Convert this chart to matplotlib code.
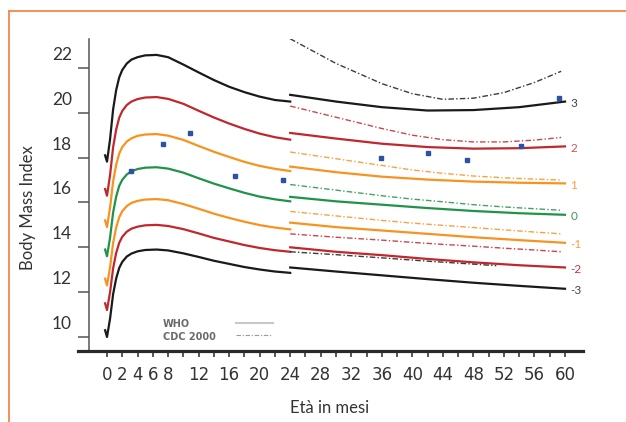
import matplotlib
matplotlib.use("Agg")
import matplotlib.pyplot as plt
from matplotlib.lines import Line2D
from matplotlib.transforms import ScaledTranslation

#--------------------------------------
# data
#--------------------------------------

# WHO, birth to 24 months (first point is the little hook at birth)
who_months_a = [-0.25, 0, 0.4, 0.8, 1.2, 1.6, 2, 2.6, 3.2, 4, 5, 6.5,
                8, 10, 12, 14, 16, 18, 20, 22, 24]
who_a_p3 = [18.1, 17.82, 18.82, 20.15, 21.01, 21.58, 21.91, 22.2, 22.37, 22.48, 22.56, 22.58,
            22.48, 22.15, 21.8, 21.46, 21.16, 20.92, 20.72, 20.57, 20.5]
who_a_p2 = [16.6, 16.3, 17.22, 18.46, 19.25, 19.78, 20.08, 20.35, 20.5, 20.61, 20.68, 20.7,
            20.62, 20.4, 20.09, 19.79, 19.52, 19.28, 19.07, 18.91, 18.8]
who_a_p1 = [15.2, 14.9, 15.77, 16.93, 17.68, 18.18, 18.47, 18.72, 18.86, 18.97, 19.03, 19.05,
            18.98, 18.79, 18.52, 18.26, 18.03, 17.81, 17.63, 17.5, 17.4]
who_a_0 = [13.9, 13.6, 14.43, 15.55, 16.26, 16.74, 17.01, 17.25, 17.39, 17.49, 17.55, 17.57,
           17.51, 17.33, 17.08, 16.84, 16.63, 16.43, 16.26, 16.14, 16.05]
who_a_m1 = [12.6, 12.3, 13.11, 14.19, 14.88, 15.34, 15.61, 15.84, 15.98, 16.07, 16.13, 16.15,
            16.1, 15.93, 15.72, 15.5, 15.31, 15.14, 14.99, 14.88, 14.8]
who_a_m2 = [11.5, 11.2, 12.0, 13.06, 13.75, 14.2, 14.47, 14.7, 14.83, 14.92, 14.98, 15.0,
            14.95, 14.81, 14.62, 14.42, 14.26, 14.1, 13.97, 13.87, 13.8]
who_a_m3 = [10.3, 10.0, 10.82, 11.91, 12.61, 13.08, 13.35, 13.59, 13.72, 13.82, 13.88, 13.9,
            13.86, 13.73, 13.57, 13.4, 13.26, 13.12, 13.01, 12.92, 12.86]

# WHO, 24 to 60 months
who_months_b = [24, 30, 36, 42, 48, 54, 60]
who_b_p3 = [20.8, 20.5, 20.25, 20.1, 20.12, 20.25, 20.5]
who_b_p2 = [19.1, 18.85, 18.62, 18.47, 18.4, 18.42, 18.5]
who_b_p1 = [17.6, 17.35, 17.15, 17.02, 16.93, 16.88, 16.85]
who_b_0 = [16.25, 16.05, 15.9, 15.75, 15.62, 15.52, 15.45]
who_b_m1 = [15.1, 14.9, 14.75, 14.6, 14.45, 14.32, 14.2]
who_b_m2 = [14.0, 13.8, 13.65, 13.48, 13.33, 13.2, 13.1]
who_b_m3 = [13.1, 12.92, 12.75, 12.58, 12.42, 12.28, 12.15]

# CDC 2000, 24 to 60 months
cdc_months = [24, 30, 36, 40, 44, 48, 52, 56, 59.5]
cdc_top = [23.3, 22.2, 21.3, 20.85, 20.6, 20.65, 20.9, 21.35, 21.85]
cdc_red_up = [20.3, 19.8, 19.3, 19.0, 18.8, 18.7, 18.7, 18.78, 18.9]
cdc_orange_up = [18.25, 17.95, 17.65, 17.45, 17.3, 17.18, 17.1, 17.04, 17.0]
cdc_green = [16.8, 16.55, 16.3, 16.15, 16.03, 15.9, 15.8, 15.72, 15.65]
cdc_orange_low = [15.6, 15.4, 15.2, 15.08, 14.98, 14.88, 14.78, 14.68, 14.6]
cdc_red_low = [14.6, 14.45, 14.32, 14.22, 14.13, 14.05, 13.96, 13.88, 13.8]
cdc_low_months = [24, 30, 36, 42, 48, 51]
cdc_black_low = [13.8, 13.67, 13.53, 13.38, 13.25, 13.18]

# child measurements
child_months = [3.2, 7.4, 10.9, 16.8, 23.1, 35.9, 42.1, 47.1, 54.2, 59.2]
child_bmi = [17.4, 18.6, 19.1, 17.2, 17.0, 17.98, 18.2, 17.9, 18.5, 20.66]

z_labels = ["3", "2", "1", "0", "-1", "-2", "-3"]
x_ticks = list(range(0, 61, 2))
x_labelled = [0, 2, 4, 6, 8, 12, 16, 20, 24, 28, 32, 36, 40, 44, 48, 52, 56, 60]
y_ticks = [10, 12, 14, 16, 18, 20, 22]

#--------------------------------------
# styles
#--------------------------------------
BLACK = "#1a1a1a"
RED = "#c1272d"
ORANGE = "#f7931e"
GREEN = "#1f9448"
label_cols = ["#444444", "#d4525a", "#f7a03a", "#3a9a52", "#f7a03a", "#c8343c", "#444444"]
DASH = (0, (4, 1.6, 1, 1.6))

fig = plt.figure(figsize=(6.26, 4.22), dpi=100)
ax = fig.add_axes([78/626, 71/422, 505/626, 312/422])

who_a = [who_a_p3, who_a_p2, who_a_p1, who_a_0, who_a_m1, who_a_m2, who_a_m3]
who_b = [who_b_p3, who_b_p2, who_b_p1, who_b_0, who_b_m1, who_b_m2, who_b_m3]
cols = [BLACK, RED, ORANGE, GREEN, ORANGE, RED, BLACK]

for vals, c in zip(who_a, cols):
    ax.plot(who_months_a, vals, color=c, lw=1.6, solid_joinstyle="round", zorder=3)
for vals, c in zip(who_b, cols):
    ax.plot(who_months_b, vals, color=c, lw=1.6, zorder=3)

cdc = [cdc_top, cdc_red_up, cdc_orange_up, cdc_green, cdc_orange_low, cdc_red_low]
cdc_cols = [BLACK, RED, ORANGE, GREEN, ORANGE, RED]
for vals, c in zip(cdc, cdc_cols):
    ax.plot(cdc_months, vals, color=c, lw=1.0, ls=DASH, alpha=0.85, zorder=4)
ax.plot(cdc_low_months, cdc_black_low, color=BLACK, lw=1.0, ls=DASH, alpha=0.85, zorder=4)

ax.plot(child_months, child_bmi, ls="none", marker="s", ms=3, color="#2b52a3", zorder=5)

# z-score labels at the right end of the WHO curves
for vals, lab, c in zip(who_b, z_labels, label_cols):
    ax.text(60.7, vals[-1] - 0.08, lab, color=c, fontsize=8.5, ha="left", va="center",
            family=["Lato", "DejaVu Sans"])

# legend drawn by hand: text on the left, line samples on the right
ax.text(0.168, 0.087, "WHO", transform=ax.transAxes, fontsize=7, fontweight="bold",
        color="#6a6a6a", va="center", ha="left")
ax.text(0.168, 0.045, "CDC 2000", transform=ax.transAxes, fontsize=7, fontweight="bold",
        color="#6a6a6a", va="center", ha="left")
ax.add_line(Line2D([0.313, 0.386], [0.090, 0.090], transform=ax.transAxes, color="#c8c8c8", lw=1.5))
ax.add_line(Line2D([0.313, 0.382], [0.051, 0.051], transform=ax.transAxes, color="#9a9a9a", lw=0.8, ls=DASH))

#--------------------------------------
# axes
#--------------------------------------
ax.set_xlim(-3.8, 62.36)
ax.set_ylim(9.375, 23.29)

for s in ["top", "right"]:
    ax.spines[s].set_visible(False)
ax.spines["bottom"].set_linewidth(2.3)
ax.spines["bottom"].set_color("#2a2a2a")
ax.spines["left"].set_position(("data", -2.36))
ax.spines["left"].set_linewidth(1.1)
ax.spines["left"].set_color("#555555")

ax.set_xticks(x_ticks)
ax.set_xticklabels([str(m) if m in x_labelled else "" for m in x_ticks],
                   family=["Liberation Sans Narrow", "DejaVu Sans"], fontsize=12, color="#333333")
ax.tick_params(axis="x", direction="out", length=4.5, width=1.1, color="#2a2a2a", pad=6)

ax.set_yticks(y_ticks)
ax.set_yticklabels([str(v) for v in y_ticks], family=["Lato", "DejaVu Sans"], fontsize=12.5, color="#333333")
ax.tick_params(axis="y", direction="out", length=8, width=1.1, color="#555555", pad=4.3)
shift = ScaledTranslation(0, 0.145, fig.dpi_scale_trans)
for lbl in ax.yaxis.get_majorticklabels():
    lbl.set_transform(lbl.get_transform() + shift)

ax.set_ylabel("Body Mass Index", family=["Lato", "DejaVu Sans"], fontsize=12, color="#333333")
ax.yaxis.set_label_coords(-0.083, 0.458)
ax.set_xlabel("Età in mesi", family=["Lato", "DejaVu Sans"], fontsize=12, color="#333333")
ax.xaxis.set_label_coords(0.499, -0.158)

# orange frame, open on the right and bottom
fig.add_artist(Line2D([9/626, 9/626], [0, 1 - 11/422], transform=fig.transFigure, color="#f2874a", lw=1.3))
fig.add_artist(Line2D([9/626, 1], [1 - 11/422, 1 - 11/422], transform=fig.transFigure, color="#f2874a", lw=1.3))

fig.savefig("out.png", dpi=100)
